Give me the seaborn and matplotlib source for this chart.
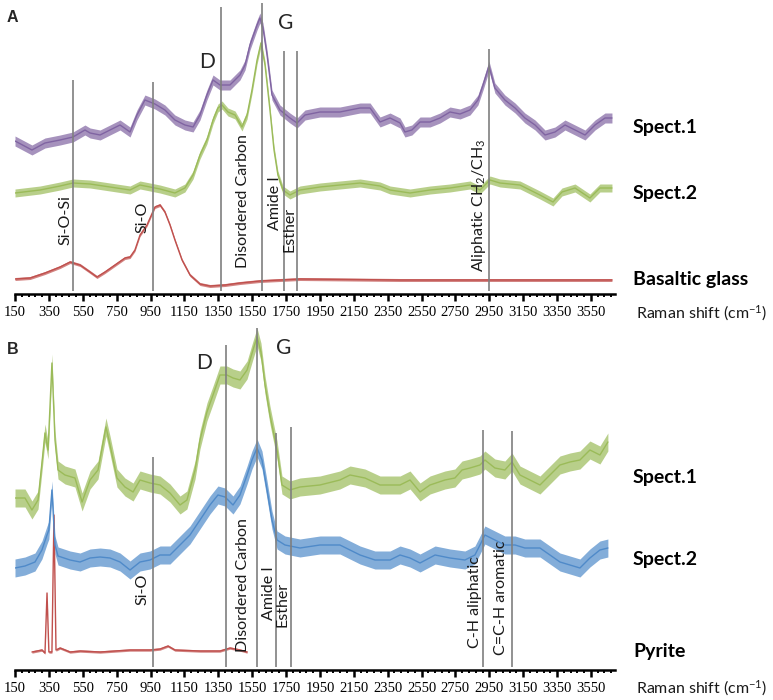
import numpy as np
import pandas as pd
import matplotlib
matplotlib.use("Agg")
import matplotlib.pyplot as plt
from matplotlib.ticker import FixedLocator
import seaborn as sns

# ---------------- data (Raman shift in cm-1, intensity in arbitrary units with stacking offsets) -------------
a_spect1_x = [150, 250, 327, 416, 492, 563, 593, 652, 711, 770, 829, 870, 917, 976, 1035, 1094, 1153, 1201,
              1242, 1283, 1319, 1360, 1419, 1478, 1508, 1537, 1579, 1596, 1614, 1638, 1667, 1714, 1773, 1815,
              1862, 1950, 2068, 2187, 2246, 2305, 2364, 2423, 2452, 2493, 2541, 2600, 2659, 2718, 2777, 2836,
              2883, 2913, 2948, 2983, 3042, 3102, 3160, 3220, 3279, 3338, 3397, 3456, 3515, 3574, 3633, 3674]
a_spect1_y = [153, 144, 151, 154, 157, 164, 161, 159, 164, 169, 162, 179, 194, 190, 184, 174, 169, 167,
              179, 199, 214, 209, 209, 219, 229, 249, 269, 276, 266, 239, 199, 184, 176, 171,
              179, 182, 182, 186, 186, 172, 176, 171, 162, 164, 172, 172, 176, 182, 180, 184,
              194, 209, 228, 206, 194, 186, 176, 169, 159, 162, 169, 164, 159, 169, 176, 176]

a_spect2_x = [150, 298, 416, 492, 593, 711, 829, 888, 1006, 1094, 1153, 1201, 1242, 1283, 1319, 1348, 1372,
              1407, 1449, 1490, 1520, 1549, 1579, 1602, 1626, 1655, 1679, 1702, 1732, 1773, 1832, 1950, 2068,
              2187, 2305, 2364, 2482, 2600, 2718, 2836, 2895, 2954, 3013, 3131, 3249, 3326, 3379, 3456, 3544,
              3603, 3674]
a_spect2_y = [101, 104, 108, 111, 110, 107, 104, 109, 105, 101, 106, 119, 139, 154, 174, 186, 189,
              182, 179, 167, 179, 204, 234, 251, 229, 184, 144, 119, 104, 99, 104, 107, 109,
              111, 108, 104, 101, 104, 106, 109, 104, 114, 111, 109, 99, 92, 102, 106, 96,
              106, 106]

a_glass_x = [150, 239, 327, 416, 475, 534, 593, 634, 681, 740, 799, 829, 858, 888, 929, 976, 1006, 1035,
             1065, 1094, 1136, 1183, 1242, 1301, 1390, 1478, 1596, 1832, 2423, 3013, 3674]
a_glass_y = [15, 16, 21, 27, 32, 29, 22, 17, 22, 29, 36, 37, 44, 59, 69, 87, 89, 82,
             69, 54, 34, 19, 10, 8, 9, 11, 13, 15, 14, 14, 14]

b_spect1_x = [150, 209, 250, 286, 309, 327, 345, 368, 386, 404, 445, 504, 546, 593, 640, 687, 711, 752,
              799, 847, 888, 947, 1006, 1065, 1124, 1165, 1213, 1242, 1283, 1319, 1360, 1401, 1437, 1478,
              1520, 1555, 1579, 1602, 1626, 1655, 1697, 1726, 1773, 1832, 1950, 2068, 2128, 2216, 2305,
              2423, 2482, 2541, 2600, 2688, 2747, 2789, 2836, 2895, 2924, 2983, 3042, 3084, 3131, 3190,
              3249, 3308, 3367, 3426, 3485, 3544, 3603, 3650]
b_spect1_y = [172, 172, 160, 170, 207, 237, 220, 307, 230, 200, 195, 192, 168, 190, 200, 243, 225, 192,
              183, 178, 190, 187, 185, 177, 165, 170, 200, 230, 258, 275, 295, 295, 292, 290,
              300, 320, 333, 318, 285, 255, 220, 185, 180, 183, 185, 190, 195, 192, 185,
              185, 190, 178, 185, 190, 192, 200, 202, 205, 210, 202, 200, 208, 195, 190,
              185, 195, 205, 208, 210, 220, 215, 228]

b_spect2_x = [150, 209, 268, 309, 339, 350, 368, 386, 404, 475, 534, 593, 652, 711, 770, 829, 888, 947,
              1006, 1065, 1124, 1183, 1242, 1301, 1348, 1390, 1437, 1478, 1520, 1549, 1579, 1608, 1638,
              1667, 1697, 1744, 1832, 1950, 2068, 2187, 2275, 2364, 2423, 2482, 2541, 2630, 2718, 2806,
              2865, 2895, 2924, 2983, 3042, 3102, 3160, 3249, 3308, 3367, 3426, 3485, 3544, 3603, 3650]
b_spect2_y = [102, 104, 108, 120, 135, 140, 180, 125, 114, 110, 108, 112, 113, 112, 108, 100, 108, 110,
              115, 115, 125, 135, 150, 165, 175, 173, 165, 175, 195, 210, 222, 210, 180,
              150, 130, 125, 122, 125, 125, 115, 110, 110, 115, 112, 107, 115, 112, 110,
              115, 125, 135, 130, 125, 125, 122, 122, 115, 108, 105, 102, 112, 120, 122]

b_pyrite_x = [250, 309, 327, 339, 350, 368, 380, 392, 416, 475, 534, 652, 829, 947, 1006, 1053, 1094,
              1242, 1360, 1419, 1478, 1520]
b_pyrite_y = [18, 20, 17, 77, 18, 18, 155, 20, 22, 18, 19, 18, 20, 20, 21, 24, 20,
              19, 19, 22, 20, 18]

tick_values = list(range(150, 3551, 200))
tick_labels = [str(v) for v in tick_values]

# band assignments: (position, line top, label, label right edge, label bottom)
a_bands = [
    (492, 214, "Si-O-Si", 487, 49),
    (965, 212, "Si-O", 945, 61),
    (1366, 287, None, None, None),
    (1608, 291, "Disordered Carbon", 1537, 26),
    (1738, 243, "Amide I", 1728, 64),
    (1815, 243, "Esther", 1812, 42),
    (2948, 245, "Aliphatic CH$_2$/CH$_3$", 2942, 22),
]
b_bands = [
    (965, 213, "Si-O", 941, 65),
    (1395, 325, None, None, None),
    (1578, 342, "Disordered Carbon", 1537, 18),
    (1693, 237, "Amide I", 1691, 50),
    (1779, 243, "Esther", 1773, 43),
    (2913, 240, "C-H aliphatic", 2907, 22),
    (3084, 239, "C=C-H aromatic", 3060, 15),
]

# ---------------- styling ----------------
sns.set_theme(style="white")
plt.rcParams['font.family'] = ['Lato', 'DejaVu Sans']
plt.rcParams['mathtext.fontset'] = 'custom'
plt.rcParams['mathtext.rm'] = 'Lato'
plt.rcParams['mathtext.it'] = 'Lato:italic'
plt.rcParams['mathtext.bf'] = 'Lato:bold'
plt.rcParams['mathtext.default'] = 'regular'

W, H = 773, 700
fig = plt.figure(figsize=(W / 100, H / 100), dpi=100)
fig.patch.set_facecolor("white")


def px_axes(left, top, right, bottom):
    return fig.add_axes([left / W, 1 - bottom / H, (right - left) / W, (bottom - top) / H])


XMAX = 3692
PURPLE = "#8064A2"
GREEN = "#9BBB59"
RED = "#C0504D"
BLUE = "#4F8AC9"


def draw_series(ax, x, y, color, half):
    df = pd.DataFrame({"shift": x, "intensity": y})
    yy = np.asarray(y, dtype=float)
    ax.fill_between(x, yy - half, yy + half, color=color, alpha=0.7, lw=0)
    sns.lineplot(data=df, x="shift", y="intensity", ax=ax, color=color, lw=1.0,
                 estimator=None, sort=False)


def style_axis(ax, ytop):
    ax.set_xlim(150, XMAX)
    ax.set_ylim(0, ytop)
    for s in ("left", "right", "top"):
        ax.spines[s].set_visible(False)
    ax.spines["bottom"].set_color("black")
    ax.spines["bottom"].set_linewidth(1.8)
    ax.set_yticks([])
    ax.set_xticks(tick_values)
    ax.set_xticklabels(tick_labels, fontfamily="Liberation Serif", fontsize=10.5, color="black")
    ax.xaxis.set_minor_locator(FixedLocator(np.arange(150, XMAX, 40)))
    ax.tick_params(axis="x", which="major", direction="out", length=5, width=1.8,
                   color="black", pad=4, bottom=True)
    ax.tick_params(axis="x", which="minor", direction="out", length=2.5, width=1.4,
                   color="black", bottom=True)
    ax.set_xlabel("")
    ax.set_ylabel("")
    ax.patch.set_alpha(0)


def draw_bands(ax, bands, ybottom):
    for pos, top, label, lx, lb in bands:
        ax.vlines(pos, ybottom, top, colors="#7f7f7f", lw=1.2, zorder=3)
        if label:
            ax.text(lx, lb, label, rotation=90, ha="right", va="bottom",
                    fontsize=11.5, color="#1a1a1a", zorder=4)


axA = px_axes(15, 0, 615, 294)
draw_series(axA, a_glass_x, a_glass_y, RED, 1.5)
draw_series(axA, a_spect2_x, a_spect2_y, GREEN, 4)
draw_series(axA, a_spect1_x, a_spect1_y, PURPLE, 5)
style_axis(axA, 294)
draw_bands(axA, a_bands, 3)

axB = px_axes(15, 326, 615, 670)
draw_series(axB, b_pyrite_x, b_pyrite_y, RED, 1.2)
draw_series(axB, b_spect2_x, b_spect2_y, BLUE, 9)
draw_series(axB, b_spect1_x, b_spect1_y, GREEN, 9)
style_axis(axB, 344)
draw_bands(axB, b_bands, 3)


def ftext(x, y, s, **kw):
    fig.text(x / W, 1 - y / H, s, **kw)


# panel letters and peak letters
ftext(7, 17, "A", fontsize=11.5, fontweight="bold", va="center", ha="left",
      family=["Liberation Sans", "DejaVu Sans"])
ftext(7, 349, "B", fontsize=11.5, fontweight="bold", va="center", ha="left",
      family=["Liberation Sans", "DejaVu Sans"])
ftext(207, 62, "D", fontsize=15, va="center", ha="center")
ftext(286, 23, "G", fontsize=15, va="center", ha="center")
ftext(204, 363, "D", fontsize=15, va="center", ha="center")
ftext(284, 348, "G", fontsize=15, va="center", ha="center")

# series labels
for y, s in [(128, "Spect.1"), (193, "Spect.2"), (279, "Basaltic glass"),
             (477, "Spect.1"), (560, "Spect.2"), (652, "Pyrite")]:
    ftext(633, y, s, fontsize=14, fontweight="bold", va="center", ha="left", color="black")

for y in (313, 688):
    ftext(636, y, "Raman shift (cm$^{-1}$)", fontsize=11.5, va="center", ha="left", color="#1a1a1a")

fig.savefig("out.png", dpi=100, facecolor="white")
